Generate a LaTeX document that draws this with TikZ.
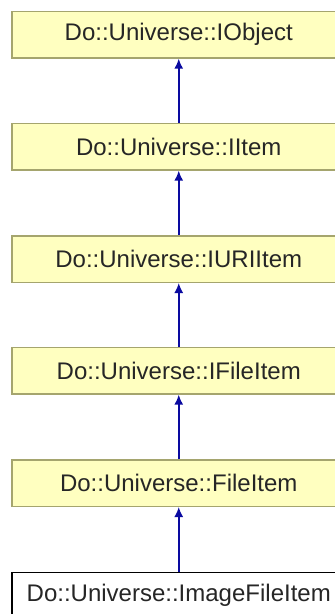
\documentclass[tikz,border=0pt]{standalone}
\usepackage{fontspec}
\setmainfont{Liberation Sans}
\usetikzlibrary{arrows.meta}
\definecolor{boxfill}{RGB}{255,255,192}
\definecolor{boxline}{RGB}{165,165,110}
\definecolor{edgecol}{RGB}{10,10,160}
\begin{document}
\begin{tikzpicture}[x=1pt,y=-1pt,
  cls/.style={draw=boxline, fill=boxfill, line width=1.5pt,
    minimum width=334pt, minimum height=46.5pt, inner sep=0pt,
    font=\fontsize{24}{29}\selectfont, text=black!85, anchor=north west},
  cur/.style={cls, draw=black, fill=white},
  inh/.style={draw=edgecol, line width=1.6pt, -{Latex[length=10pt,width=9pt]}}]
\useasboundingbox (0,0) rectangle (335,614);
\begin{scope}
\clip (0,0) rectangle (335,614);
\node[cls] (a) at (11,10.7) {Do::Universe::IObject};
\node[cls] (b) at (11,122.7) {Do::Universe::IItem};
\node[cls] (c) at (11,235) {Do::Universe::IURIItem};
\node[cls] (d) at (11,346.7) {Do::Universe::IFileItem};
\node[cls] (e) at (11,459) {Do::Universe::FileItem};
\node[cur] (f) at (11,571.7) {Do::Universe::ImageFileItem};
\draw[inh] (b.north) -- (a.south);
\draw[inh] (c.north) -- (b.south);
\draw[inh] (d.north) -- (c.south);
\draw[inh] (e.north) -- (d.south);
\draw[inh] (f.north) -- (e.south);
\end{scope}
\end{tikzpicture}
\end{document}
